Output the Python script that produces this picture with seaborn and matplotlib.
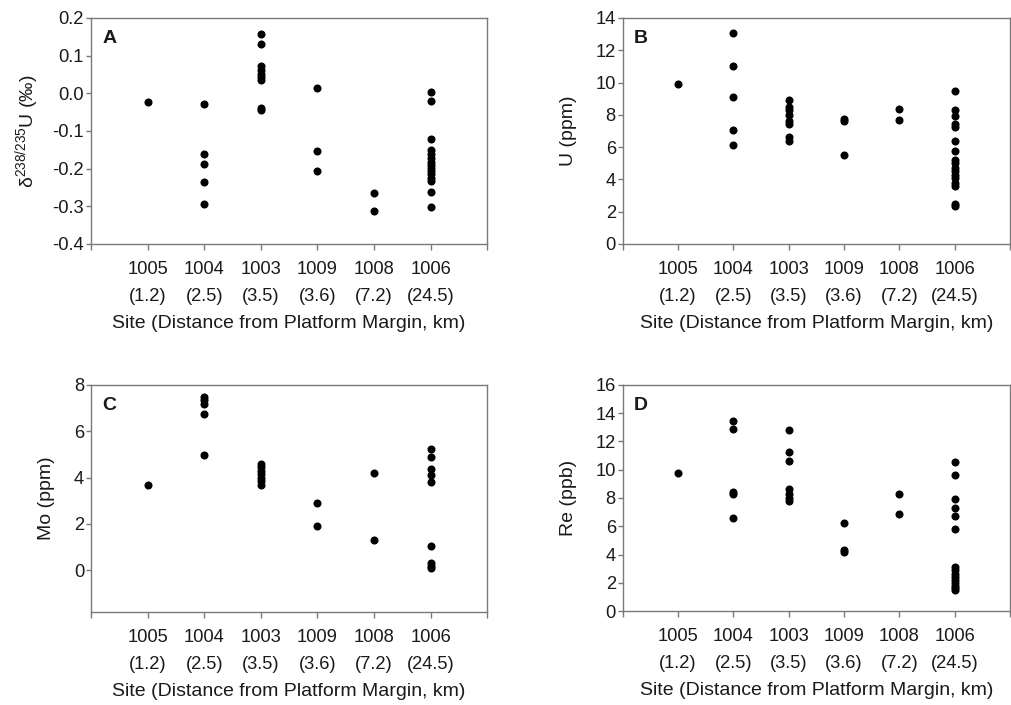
import numpy as np
import pandas as pd
import matplotlib
matplotlib.use("Agg")
import matplotlib.pyplot as plt
import seaborn as sns

sites = ["1005", "1004", "1003", "1009", "1008", "1006"]
distances = ["1.2", "2.5", "3.5", "3.6", "7.2", "24.5"]

# Panel A: delta 238/235 U (permil)
d238_1005 = [-0.023]
d238_1004 = [-0.028, -0.160, -0.187, -0.235, -0.293]
d238_1003 = [0.158, 0.131, 0.072, 0.062, 0.052, 0.043, 0.036, -0.040, -0.045]
d238_1009 = [0.014, -0.153, -0.207]
d238_1008 = [-0.266, -0.312]
d238_1006 = [0.004, -0.021, -0.121, -0.150, -0.162, -0.172, -0.182, -0.190,
             -0.198, -0.207, -0.215, -0.224, -0.232, -0.262, -0.302]

# Panel B: U (ppm)
u_1005 = [9.9]
u_1004 = [13.07, 11.0, 9.12, 7.09, 6.10]
u_1003 = [8.93, 8.5, 8.3, 8.0, 7.6, 7.4, 6.65, 6.35]
u_1009 = [7.75, 7.6, 5.5]
u_1008 = [8.35, 7.65]
u_1006 = [9.49, 8.31, 7.9, 7.42, 7.22, 6.39, 5.73, 5.21, 5.0, 4.7, 4.5, 4.3,
          4.1, 3.76, 3.62, 2.48, 2.38]

# Panel C: Mo (ppm)
mo_1005 = [3.69]
mo_1004 = [7.50, 7.35, 7.16, 6.74, 4.96]
mo_1003 = [4.6, 4.45, 4.3, 4.15, 4.0, 3.85, 3.7]
mo_1009 = [2.89, 1.91]
mo_1008 = [4.21, 1.30]
mo_1006 = [5.22, 4.9, 4.36, 4.1, 3.8, 1.03, 0.3, 0.2, 0.1]

# Panel D: Re (ppb)
re_1005 = [9.79]
re_1004 = [13.43, 12.86, 8.40, 8.26, 6.56]
re_1003 = [12.84, 11.26, 10.62, 8.61, 8.28, 8.02, 7.81]
re_1009 = [6.23, 4.30, 4.15]
re_1008 = [8.28, 6.89]
re_1006 = [10.55, 9.63, 7.91, 7.27, 6.73, 5.81, 3.1, 2.9, 2.6, 2.4, 2.2, 2.0,
           1.8, 1.6, 1.5]

yticks_a = [-0.4, -0.3, -0.2, -0.1, 0.0, 0.1, 0.2]
yticks_b = [0, 2, 4, 6, 8, 10, 12, 14]
yticks_c = [0, 2, 4, 6, 8]
yticks_d = [0, 2, 4, 6, 8, 10, 12, 14, 16]


def long_df(groups):
    rows = []
    for s, vals in zip(sites, groups):
        for v in vals:
            rows.append({"site": s, "value": v})
    return pd.DataFrame(rows)


panels = [
    dict(letter="A", df=long_df([d238_1005, d238_1004, d238_1003, d238_1009, d238_1008, d238_1006]),
         ylabel="δ$^{238/235}$U (‰)", ylim=(-0.4, 0.2), yticks=yticks_a,
         fmt="{:.1f}", pos=[0.090, 0.654, 0.392, 0.3205], ylx=-0.125),
    dict(letter="B", df=long_df([u_1005, u_1004, u_1003, u_1009, u_1008, u_1006]),
         ylabel="U (ppm)", ylim=(0, 14), yticks=yticks_b,
         fmt="{:.0f}", pos=[0.616, 0.654, 0.383, 0.3205], ylx=-0.119),
    dict(letter="C", df=long_df([mo_1005, mo_1004, mo_1003, mo_1009, mo_1008, mo_1006]),
         ylabel="Mo (ppm)", ylim=(-1.8, 8), yticks=yticks_c,
         fmt="{:.0f}", pos=[0.090, 0.132, 0.392, 0.322], ylx=-0.09),
    dict(letter="D", df=long_df([re_1005, re_1004, re_1003, re_1009, re_1008, re_1006]),
         ylabel="Re (ppb)", ylim=(0, 16), yticks=yticks_d,
         fmt="{:.0f}", pos=[0.616, 0.1333, 0.383, 0.3207], ylx=-0.119),
]

sns.set_style("white")
plt.rcParams["font.family"] = ["Liberation Sans", "DejaVu Sans"]
plt.rcParams["mathtext.default"] = "regular"
plt.rcParams["mathtext.fontset"] = "custom"
plt.rcParams["mathtext.rm"] = "Liberation Sans"

text_color = "#1a1a1a"
spine_color = "#7a7a7a"
fs_tick = 13.2
fs_label = 14

fig = plt.figure(figsize=(10.11, 7.05), dpi=100)
fig.patch.set_facecolor("white")

for p in panels:
    ax = fig.add_axes(p["pos"])
    sns.stripplot(data=p["df"], x="site", y="value", order=sites, jitter=False,
                  color="black", size=5.8, linewidth=0, ax=ax)
    ax.set_xlim(-1, 6)
    ax.set_ylim(*p["ylim"])
    ax.set_xticks(np.arange(-1, 7))
    ax.set_xticklabels([""] + [f"{s}\n({d})" for s, d in zip(sites, distances)] + [""],
                       fontsize=fs_tick, color=text_color, linespacing=1.82)
    ax.set_yticks(p["yticks"])
    ax.set_yticklabels([p["fmt"].format(v + 0.0) for v in p["yticks"]],
                       fontsize=fs_tick, color=text_color)
    ax.tick_params(axis="x", direction="out", length=4, width=1, color=spine_color, pad=8,
                   bottom=True, top=False)
    ax.tick_params(axis="y", direction="out", length=3.5, width=1, color=spine_color, pad=1.5,
                   left=True, right=False)
    for sp in ax.spines.values():
        sp.set_visible(True)
        sp.set_color(spine_color)
        sp.set_linewidth(1.0)
    ax.set_xlabel("Site (Distance from Platform Margin, km)", fontsize=fs_label, color=text_color)
    ax.xaxis.set_label_coords(0.5, -0.315)
    ax.set_ylabel(p["ylabel"], fontsize=fs_label, color=text_color)
    ax.yaxis.set_label_coords(p["ylx"], 0.5)
    ax.text(0.028, 0.91, p["letter"], transform=ax.transAxes, fontsize=fs_label,
            fontweight="bold", color=text_color, ha="left", va="center")
    ax.grid(False)

fig.savefig("out.png", dpi=100, facecolor="white")
